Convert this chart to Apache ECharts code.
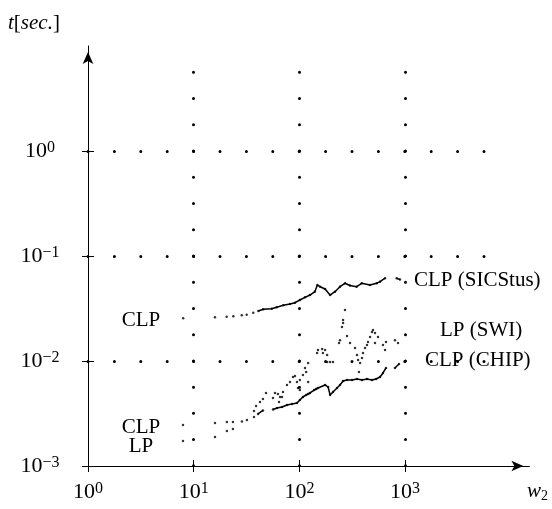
<!DOCTYPE html>
<html><head><meta charset="utf-8">
<script src="https://cdn.jsdelivr.net/npm/echarts@6/dist/echarts.min.js"></script>
<style>html,body{margin:0;padding:0;background:#fff}#c{width:552px;height:509px}</style>
</head><body><div id="c"></div>
<script>
// ---- tick labels ----
const xTickValues = [1, 10, 100, 1000];
const xTickExponents = ['0', '1', '2', '3'];
const yTickValues = [0.001, 0.01, 0.1, 1];
const yTickExponents = ['\u22123', '\u22122', '\u22121', '0'];

// ---- series: CLP (SICStus) ----
const sicstusW = [7.95, 15.9, 20.5, 23.7, 28.5, 31.7, 36.6, 40.9, 45.5, 54.7, 61.0, 70.4, 81.5, 90.9, 101, 113, 126, 140, 148, 157, 175, 195, 217, 242, 270, 301, 348, 389, 465, 539, 579, 646, 833, 895];
const sicstusT = [0.0255, 0.0261, 0.0264, 0.0267, 0.0272, 0.0276, 0.0288, 0.0299, 0.0311, 0.0315, 0.0325, 0.0339, 0.0349, 0.0359, 0.0381, 0.0404, 0.0425, 0.0457, 0.0529, 0.0510, 0.0485, 0.0425, 0.0457, 0.0510, 0.0550, 0.0524, 0.0510, 0.0550, 0.0529, 0.0550, 0.0570, 0.0614, 0.0614, 0.0596];

// ---- series: CLP (CHIP) ----
const chipW = [7.92, 15.9, 20.6, 23.5, 28.6, 31.9, 37.2, 40.6, 45.2, 56.3, 61.4, 68.5, 76.3, 85.1, 94.9, 101, 108, 116, 121, 126, 138, 144, 150, 175, 187, 195, 208, 227, 242, 259, 282, 315, 351, 391, 436, 486, 531, 579, 618, 660, 802, 876];
const chipT = [0.00246, 0.00257, 0.00262, 0.00262, 0.00265, 0.00274, 0.00293, 0.00313, 0.00338, 0.00345, 0.00357, 0.00365, 0.00381, 0.00389, 0.00398, 0.00425, 0.00454, 0.00475, 0.00485, 0.00496, 0.00529, 0.00541, 0.00553, 0.00591, 0.00565, 0.00475, 0.00507, 0.00553, 0.00591, 0.00645, 0.00659, 0.00659, 0.00674, 0.00659, 0.00674, 0.00659, 0.00674, 0.00704, 0.00769, 0.00858, 0.00858, 0.00937];

// ---- series: LP (SWI) ----
const swiW = [7.92, 15.9, 20.6, 23.5, 37.2, 38.9, 42.4, 45.2, 48.3, 56.3, 58.8, 62.7, 65.5, 64.1, 70.0, 68.5, 76.3, 81.5, 87.0, 90.9, 94.9, 97.0, 101, 108, 116, 121, 101, 113, 121, 147, 150, 164, 167, 175, 183, 195, 208, 183, 270, 259, 259, 253, 282, 242, 237, 301, 336, 351, 359, 375, 366, 391, 400, 418, 436, 446, 466, 486, 497, 519, 554, 519, 618, 646, 660, 802, 857];
const swiT = [0.00173, 0.00189, 0.00215, 0.00225, 0.00334, 0.00373, 0.00407, 0.00435, 0.00496, 0.00444, 0.00496, 0.00485, 0.00454, 0.00407, 0.00507, 0.00454, 0.00591, 0.00631, 0.00704, 0.00720, 0.00631, 0.00553, 0.00529, 0.00736, 0.00785, 0.00631, 0.00659, 0.00858, 0.00957, 0.0119, 0.0127, 0.0130, 0.0119, 0.0127, 0.0114, 0.00978, 0.00978, 0.00978, 0.0306, 0.0246, 0.0230, 0.0211, 0.0173, 0.0158, 0.0148, 0.0148, 0.0133, 0.0114, 0.0102, 0.00957, 0.00785, 0.0107, 0.0119, 0.0133, 0.0142, 0.0152, 0.0169, 0.0189, 0.0197, 0.0185, 0.0169, 0.0148, 0.0142, 0.0127, 0.0152, 0.0158, 0.0148];

const FONT = 'Liberation Serif';
const zip = (a, b) => a.map((v, i) => [v, b[i]]);
// dense runs drawn as a connected trace, broken at gaps
function trace(w, t, fromW) {
  const out = [];
  for (let i = 0; i < w.length; i++) {
    if (w[i] < fromW) continue;
    if (out.length && w[i] / out[out.length - 1][0] > 1.21) out.push([null, null]);
    out.push([w[i], t[i]]);
  }
  return out;
}
function tickFmt(values, exps) {
  return v => {
    const i = values.findIndex(t => Math.abs(Math.log10(t) - Math.log10(v)) < 1e-6);
    return i < 0 ? '' : '{b|10}{s|' + exps[i] + '}';
  };
}
const rich = {
  b: { fontFamily: FONT, fontSize: 22, lineHeight: 22, padding: [6, 0, 0, 0], verticalAlign: 'bottom', color: '#000' },
  s: { fontFamily: FONT, fontSize: 16, lineHeight: 16, verticalAlign: 'top', color: '#000' }
};
const dotStyle = (gap) => ({ show: true, showMinLine: false, showMaxLine: false,
  lineStyle: { color: '#000', width: 3, type: [0, gap], cap: 'round' } });

const chart = echarts.init(document.getElementById('c'), null, { renderer: 'canvas' });
chart.setOption({
  animation: false,
  backgroundColor: '#fff',
  grid: [
    { left: 88, right: 22.6, top: 46, bottom: 43, outerBoundsMode: 'none' },
    { left: 88, right: 146.9, top: 151, bottom: 43, outerBoundsMode: 'none' },
    { left: 88, right: 67.625, top: 72.25, bottom: 43, outerBoundsMode: 'none' }
  ],
  xAxis: [
    { gridIndex: 0, type: 'log', logBase: 10, min: 1, max: 15000,
      axisLine: { show: true, onZero: false, symbol: ['none', 'arrow'], symbolSize: [8, 12], symbolOffset: [0, -6], lineStyle: { color: '#000', width: 1 } },
      axisTick: { show: false }, axisLabel: { show: false }, splitLine: { show: false } },
    { gridIndex: 1, type: 'log', logBase: 10, min: 1, max: 1000, position: 'bottom',
      axisLine: { show: false, onZero: false }, axisTick: { show: true, inside: false, length: 6, lineStyle: { color: '#000' } },
      axisLabel: { show: true, margin: 15, formatter: tickFmt(xTickValues, xTickExponents), rich: rich },
      splitLine: { show: false } },
    { gridIndex: 1, type: 'log', logBase: 10, min: 1, max: 1000, position: 'bottom',
      axisLine: { show: false, onZero: false }, axisTick: { show: true, inside: true, length: 6, lineStyle: { color: '#000' } },
      axisLabel: { show: false }, splitLine: { show: false } },
    { gridIndex: 2, type: 'log', logBase: 10, min: 1, max: Math.pow(10, 3.75),
      axisLine: { show: false, onZero: false }, axisTick: { show: false }, axisLabel: { show: false },
      splitLine: dotStyle(26.24) }
  ],
  yAxis: [
    { gridIndex: 0, type: 'log', logBase: 10, min: 0.001, max: 10,
      axisLine: { show: true, onZero: false, symbol: ['none', 'arrow'], symbolSize: [8, 12], symbolOffset: [0, -6], lineStyle: { color: '#000', width: 1 } },
      axisTick: { show: false }, axisLabel: { show: false }, splitLine: { show: false } },
    { gridIndex: 1, type: 'log', logBase: 10, min: 0.001, max: 1, position: 'left',
      axisLine: { show: false, onZero: false }, axisTick: { show: true, inside: false, length: 6, lineStyle: { color: '#000' } },
      axisLabel: { show: true, margin: 48, align: 'center', formatter: tickFmt(yTickValues, yTickExponents), rich: rich },
      splitLine: { show: false } },
    { gridIndex: 1, type: 'log', logBase: 10, min: 0.001, max: 1, position: 'left',
      axisLine: { show: false, onZero: false }, axisTick: { show: true, inside: true, length: 6, lineStyle: { color: '#000' } },
      axisLabel: { show: false }, splitLine: { show: false } },
    { gridIndex: 2, type: 'log', logBase: 10, min: 0.001, max: Math.pow(10, 0.75),
      axisLine: { show: false, onZero: false }, axisTick: { show: false }, axisLabel: { show: false },
      splitLine: dotStyle(26.4) }
  ],
  series: [
    { name: 'CLP (SICStus)', type: 'scatter', xAxisIndex: 0, yAxisIndex: 0, data: zip(sicstusW, sicstusT), symbol: 'circle', symbolSize: 2.5, itemStyle: { color: '#000' }, silent: true },
    { name: 'CLP (SICStus) trace', type: 'line', xAxisIndex: 0, yAxisIndex: 0, data: trace(sicstusW, sicstusT, 40), showSymbol: false, connectNulls: false, lineStyle: { color: '#000', width: 1.5 }, silent: true },
    { name: 'CLP (CHIP)', type: 'scatter', xAxisIndex: 0, yAxisIndex: 0, data: zip(chipW, chipT), symbol: 'circle', symbolSize: 2.5, itemStyle: { color: '#000' }, silent: true },
    { name: 'CLP (CHIP) trace', type: 'line', xAxisIndex: 0, yAxisIndex: 0, data: trace(chipW, chipT, 40), showSymbol: false, connectNulls: false, lineStyle: { color: '#000', width: 1.5 }, silent: true },
    { name: 'LP (SWI)', type: 'scatter', xAxisIndex: 0, yAxisIndex: 0, data: zip(swiW, swiT), symbol: 'circle', symbolSize: 2.5, itemStyle: { color: '#000' }, silent: true }
  ],
  graphic: [
    { type: 'text', x: 8, y: 23, style: { text: '{i|t}{n|[}{i|sec.}{n|]}', align: 'left', verticalAlign: 'middle', textAlign: 'left', textVerticalAlign: 'middle',
        rich: { i: { fontFamily: FONT, fontSize: 21, fontStyle: 'italic', fill: '#000', color: '#000' }, n: { fontFamily: FONT, fontSize: 21, fill: '#000', color: '#000' } } } },
    { type: 'text', x: 527, y: 492, style: { text: '{i|w}{d|2}', align: 'left', verticalAlign: 'middle', textAlign: 'left', textVerticalAlign: 'middle',
        rich: { i: { fontFamily: FONT, fontSize: 21, fontStyle: 'italic', lineHeight: 22, verticalAlign: 'top', fill: '#000', color: '#000' },
                d: { fontFamily: FONT, fontSize: 14, lineHeight: 14, padding: [10, 0, 0, 0], verticalAlign: 'bottom', fill: '#000', color: '#000' } } } },
    { type: 'text', x: 141, y: 320, style: { text: 'CLP', font: '21px "Liberation Serif"', fill: '#000', align: 'center', verticalAlign: 'middle', textAlign: 'center', textVerticalAlign: 'middle' } },
    { type: 'text', x: 141, y: 427, style: { text: 'CLP', font: '21px "Liberation Serif"', fill: '#000', align: 'center', verticalAlign: 'middle', textAlign: 'center', textVerticalAlign: 'middle' } },
    { type: 'text', x: 141, y: 446, style: { text: 'LP', font: '21px "Liberation Serif"', fill: '#000', align: 'center', verticalAlign: 'middle', textAlign: 'center', textVerticalAlign: 'middle' } },
    { type: 'text', x: 414, y: 280, style: { text: 'CLP (SICStus)', font: '21px "Liberation Serif"', fill: '#000', align: 'left', verticalAlign: 'middle', textAlign: 'left', textVerticalAlign: 'middle' } },
    { type: 'text', x: 440, y: 330, style: { text: 'LP (SWI)', font: '21px "Liberation Serif"', fill: '#000', align: 'left', verticalAlign: 'middle', textAlign: 'left', textVerticalAlign: 'middle' } },
    { type: 'text', x: 425, y: 360, style: { text: 'CLP (CHIP)', font: '21px "Liberation Serif"', fill: '#000', align: 'left', verticalAlign: 'middle', textAlign: 'left', textVerticalAlign: 'middle' } }
  ]
});
</script>
</body></html>
